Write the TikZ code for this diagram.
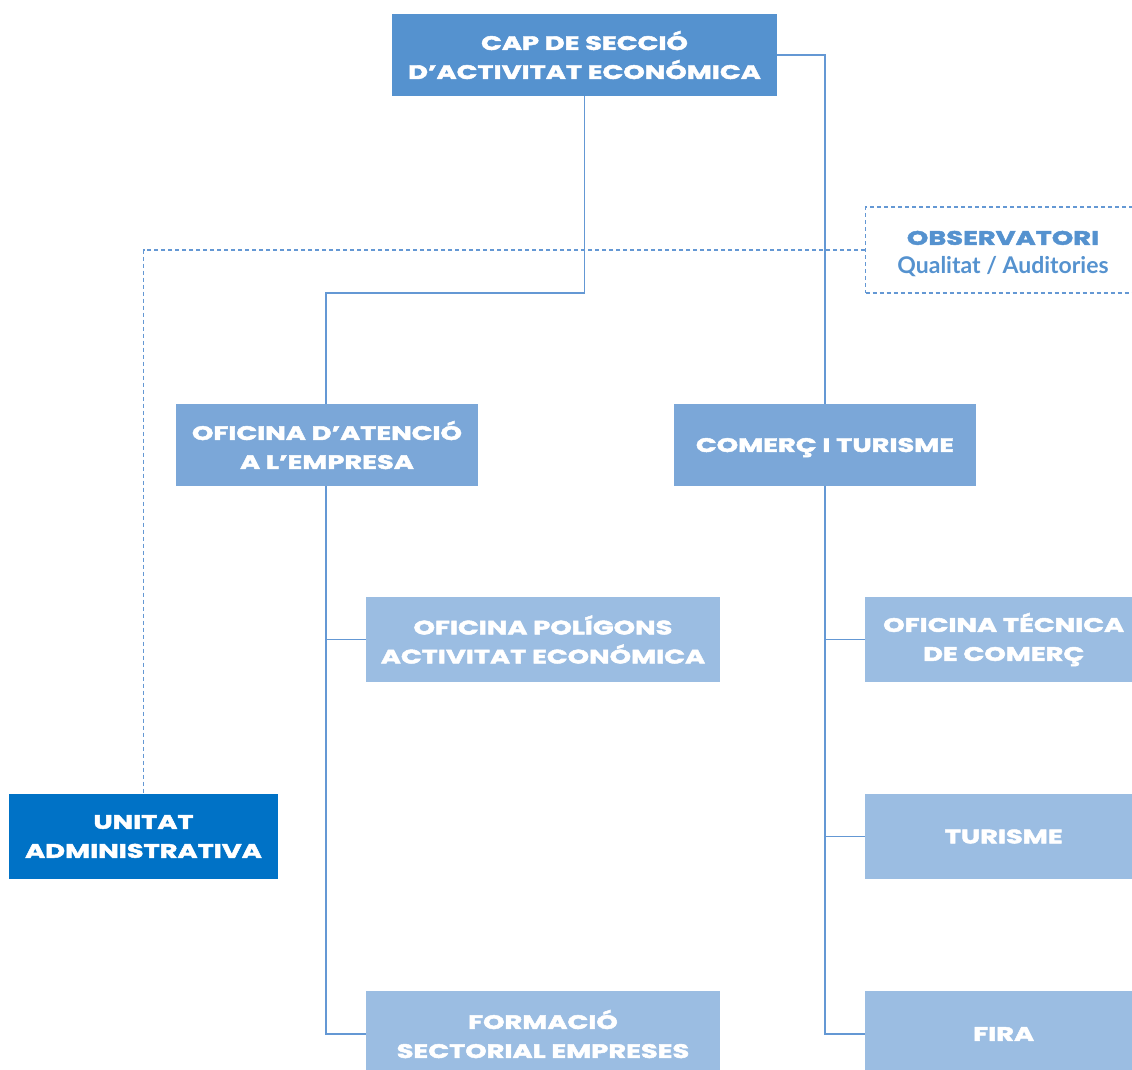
\documentclass[tikz,border=0pt]{standalone}
\usepackage{fontspec}
\setmainfont{Poppins}[FakeStretch=1.40,BoldFeatures={FakeBold=2.5}]
\newfontfamily\subfont{Lato}
\usepackage{xcolor}
\usetikzlibrary{positioning}
\definecolor{capblue}{RGB}{85,146,207}
\definecolor{midblue}{RGB}{123,167,216}
\definecolor{paleblue}{RGB}{155,189,226}
\definecolor{deepblue}{RGB}{0,114,198}
\definecolor{lineblue}{RGB}{100,152,212}
\tikzset{
  unitbox/.style={rectangle,inner sep=0pt,text=white,align=center,
    font=\fontsize{19.5}{29}\selectfont\bfseries},
  link/.style={draw=lineblue,line width=1.2pt},
  dotlink/.style={link,dash pattern=on 4pt off 3pt},
}
\begin{document}
\begin{tikzpicture}[x=1pt,y=-1pt]
  \useasboundingbox (0,0) rectangle (1132,1070);
  % caps
  \node[unitbox,fill=capblue,minimum width=385pt,minimum height=82pt] (cap) at (584.5,55) {CAP DE SECCIÓ\\D’ACTIVITAT ECONÓMICA};
  \node[draw=lineblue,dotlink,rectangle,minimum width=276pt,minimum height=86pt,anchor=west] (obs) at (865,250) {};
  \node[align=center,text=capblue,font=\fontsize{19.5}{29}\selectfont] (obstext) at (1003,254) {{\bfseries OBSERVATORI}\\{\subfont\fontsize{23}{29}\selectfont\bfseries Qualitat / Auditories}};
  % segon nivell
  \node[unitbox,fill=midblue,minimum width=302pt,minimum height=82pt] (atencio) at (327,445) {OFICINA D’ATENCIÓ\\A L’EMPRESA};
  \node[unitbox,fill=midblue,minimum width=302pt,minimum height=82pt,text depth=0pt] (comerc) at (825,445) {COMERÇ I TURISME};
  \node[unitbox,fill=deepblue,minimum width=269pt,minimum height=85pt] (unitat) at (143.5,836.5) {UNITAT\\ADMINISTRATIVA};
  % tercer nivell
  \node[unitbox,fill=paleblue,minimum width=354pt,minimum height=85pt] (poligons) at (543,639.5) {OFICINA POLÍGONS\\ACTIVITAT ECONÓMICA};
  \node[unitbox,fill=paleblue,minimum width=354pt,minimum height=86pt] (formacio) at (543,1034) {FORMACIÓ\\SECTORIAL EMPRESES};
  \node[unitbox,fill=paleblue,minimum width=267pt,minimum height=85pt,anchor=west] (tecnica) at (865,639.5) {\hspace*{10pt}OFICINA TÉCNICA\\\hspace*{10pt}DE COMERÇ};
  \node[unitbox,fill=paleblue,minimum width=267pt,minimum height=85pt,anchor=west] (turisme) at (865,836.5) {\hspace*{10pt}TURISME};
  \node[unitbox,fill=paleblue,minimum width=267pt,minimum height=86pt,anchor=west] (fira) at (865,1034) {\hspace*{10pt}FIRA};
  % connectors
  \coordinate (elbow) at (326,293);
  \coordinate (trunk) at (326,486);
  \draw[link] (cap.south) |- (elbow) -- (elbow |- atencio.north);
  \draw[link] (cap.east) -| (comerc.north);
  \draw[dotlink] (obs.west) -| (unitat.north);
  \draw[link] (trunk) |- (formacio.west);
  \draw[link] (trunk |- poligons.west) -- (poligons.west);
  \draw[link] (comerc.south) |- (fira.west);
  \draw[link] (comerc.south |- tecnica.west) -- (tecnica.west);
  \draw[link] (comerc.south |- turisme.west) -- (turisme.west);
\end{tikzpicture}
\end{document}
